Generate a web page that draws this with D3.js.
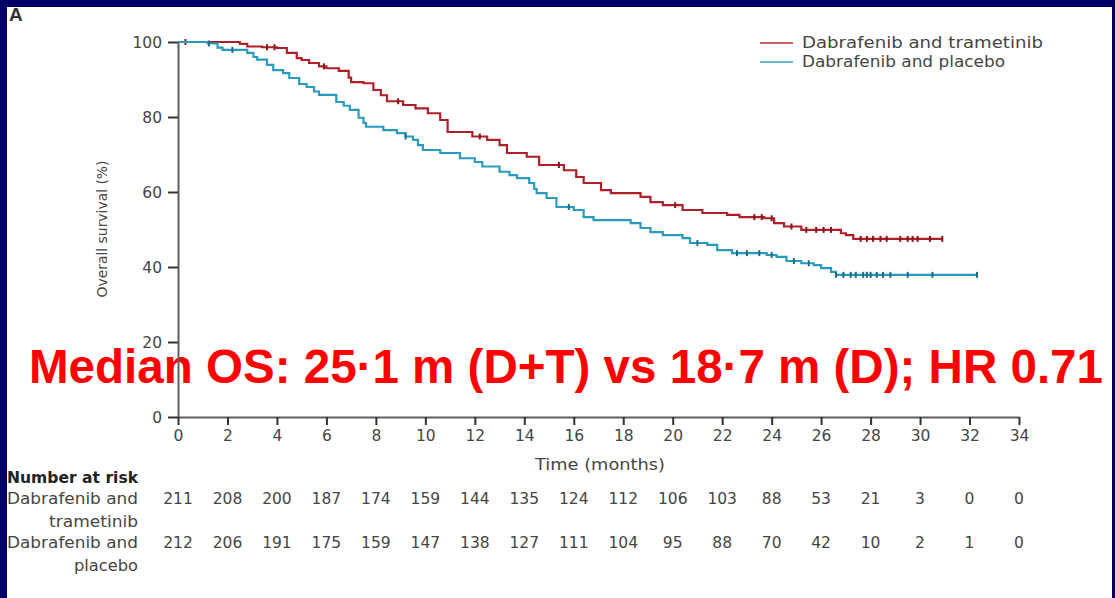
<!DOCTYPE html>
<html>
<head>
<meta charset="utf-8">
<script src="https://cdn.jsdelivr.net/npm/d3@7"></script>
<style>
  html, body { margin: 0; padding: 0; background: #ffffff; }
  svg { display: block; }
</style>
</head>
<body>
<script>
// Overall survival, dabrafenib + trametinib vs dabrafenib + placebo

const months = [0, 2, 4, 6, 8, 10, 12, 14, 16, 18, 20, 22, 24, 26, 28, 30, 32, 34];
const survivalTicks = [0, 20, 40, 60, 80, 100];

const seriesNames = ["Dabrafenib and trametinib", "Dabrafenib and placebo"];
const riskLabels = [["Dabrafenib and", "trametinib"], ["Dabrafenib and", "placebo"]];

const riskDT = [211, 208, 200, 187, 174, 159, 144, 135, 124, 112, 106, 103, 88, 53, 21, 3, 0, 0];
const riskDP = [212, 206, 191, 175, 159, 147, 138, 127, 111, 104, 95, 88, 70, 42, 10, 2, 1, 0];

// Kaplan-Meier steps: time (months) and survival (%) after each event
const dtTime = [0, 2.5, 2.8, 3.4, 4.0, 4.4, 4.8, 5.0, 5.3, 5.7, 6.0, 6.5, 6.9, 7.0, 7.5, 7.9, 8.2, 8.45, 9.1, 9.6, 10.1, 10.6, 10.9, 11.9, 12.5, 13.0, 13.3, 14.1, 14.6, 15.6, 16.1, 16.4, 17.1, 17.5, 18.7, 19.1, 19.6, 20.4, 21.2, 22.2, 22.7, 23.7, 24.1, 24.5, 25.2, 26.8, 27.0, 27.3];
const dtSurv = [100, 99.5, 98.8, 98.6, 98.4, 97.1, 95.7, 95.2, 94.4, 93.5, 93.0, 92.3, 90.5, 89.3, 89.0, 87.2, 85.8, 84.2, 83.2, 82.3, 81.0, 79.2, 76.0, 74.8, 73.9, 72.5, 70.4, 69.4, 67.2, 65.8, 64.0, 62.4, 60.5, 59.7, 58.7, 57.3, 56.5, 55.2, 54.4, 53.9, 53.3, 53.0, 51.7, 50.8, 49.9, 49.0, 48.5, 47.5];
const dtEnd = 30.9;
const dtCensor = [0.3, 3.6, 3.9, 5.9, 8.9, 12.2, 15.4, 20.1, 23.3, 23.6, 24.0, 24.8, 25.4, 25.8, 26.1, 26.4, 27.6, 27.85, 28.1, 28.4, 28.65, 29.2, 29.5, 29.7, 29.9, 30.4, 30.9];

const dpTime = [0, 1.2, 1.6, 1.8, 2.8, 3.05, 3.2, 3.6, 3.85, 4.25, 4.5, 4.9, 5.2, 5.5, 5.7, 6.4, 6.7, 6.95, 7.3, 7.5, 7.6, 8.3, 8.85, 9.2, 9.5, 9.7, 9.9, 10.6, 11.4, 12.0, 12.3, 13.0, 13.4, 13.7, 14.2, 14.4, 14.5, 14.9, 15.3, 16.0, 16.4, 16.8, 18.3, 18.7, 19.1, 19.6, 20.4, 20.7, 21.4, 21.8, 22.4, 23.8, 24.2, 24.6, 25.2, 25.7, 26.0, 26.4, 26.6];
const dpSurv = [100, 99.6, 98.5, 97.9, 97.1, 96.0, 95.3, 93.9, 92.5, 91.7, 90.4, 88.8, 88.0, 86.8, 85.9, 84.0, 83.0, 81.9, 79.8, 78.4, 77.4, 76.5, 75.7, 74.8, 73.9, 72.5, 71.2, 70.4, 69.0, 68.0, 66.8, 65.4, 64.5, 63.7, 62.4, 60.8, 59.7, 58.4, 56.0, 55.2, 53.3, 52.5, 51.7, 50.4, 49.3, 48.5, 47.7, 46.4, 45.9, 44.5, 43.7, 43.2, 42.7, 41.6, 41.0, 40.5, 39.7, 38.7, 37.9];
const dpEnd = 32.3;
const dpCensor = [1.25, 2.2, 9.2, 15.8, 21.0, 22.6, 23.0, 23.5, 24.0, 24.9, 25.5, 26.6, 26.9, 27.2, 27.4, 27.7, 27.85, 28.0, 28.25, 28.5, 28.8, 29.5, 30.5, 32.3];

const medianNote = "Median OS: 25·1 m (D+T) vs 18·7 m (D); HR 0.71";

const W = 1115, H = 598;
const textFont = "'DejaVu Sans', 'Noto Sans', sans-serif";
const textGrey = "#454545";
const axisGrey = "#5e5e5e";
const colDT = "#b01f29", colDTdark = "#8a1218";
const colDP = "#2a9bbf", colDPdark = "#1c6d8a";

const svg = d3.select("body").append("svg").attr("width", W).attr("height", H);
svg.append("rect").attr("width", W).attr("height", H).attr("fill", "#ffffff");

const x = d3.scaleLinear().domain([0, 34]).range([178, 1019]);
const y = d3.scaleLinear().domain([0, 100]).range([417, 42]);

// sized text helper: stretches a label to a given run length
function label(parent, str, px, py, size, len, anchor, weight, fill) {
  const t = parent.append("text").attr("x", px).attr("y", py)
    .attr("font-family", textFont).attr("font-size", size)
    .attr("fill", fill || textGrey).attr("text-anchor", anchor || "start")
    .text(str);
  if (weight) t.attr("font-weight", weight);
  if (len) t.attr("textLength", len).attr("lengthAdjust", "spacingAndGlyphs");
  return t;
}

// panel letter
svg.append("text").attr("x", 9).attr("y", 21)
  .attr("font-family", "'Liberation Sans', Arial, sans-serif").attr("font-weight", "bold")
  .attr("font-size", 19).attr("fill", "#333").text("A");

// headline annotation (sits under the axis lines)
svg.append("text").attr("x", 29).attr("y", 383)
  .attr("font-family", "'Liberation Sans', Arial, sans-serif").attr("font-weight", "bold")
  .attr("font-size", 48).attr("fill", "#ff0000")
  .attr("textLength", 1074).attr("lengthAdjust", "spacingAndGlyphs")
  .text(medianNote);

// step curves
function stepPoints(times, surv, end) {
  const pts = times.map((t, i) => [t, surv[i]]);
  pts.push([end, surv[surv.length - 1]]);
  return pts;
}
function survAt(times, surv, t) {
  const i = d3.bisectRight(times, t) - 1;
  return surv[Math.max(0, i)];
}
const line = d3.line().x(d => x(d[0])).y(d => y(d[1])).curve(d3.curveStepAfter);

const arms = [
  { times: dtTime, surv: dtSurv, end: dtEnd, censor: dtCensor, col: colDT, dark: colDTdark },
  { times: dpTime, surv: dpSurv, end: dpEnd, censor: dpCensor, col: colDP, dark: colDPdark }
];

arms.forEach(a => {
  svg.append("path").datum(stepPoints(a.times, a.surv, a.end))
    .attr("fill", "none").attr("stroke", a.col).attr("stroke-width", 2.2)
    .attr("d", line);
  svg.append("g").selectAll("line").data(a.censor).join("line")
    .attr("x1", t => x(t)).attr("x2", t => x(t))
    .attr("y1", t => y(survAt(a.times, a.surv, t)) - 3)
    .attr("y2", t => y(survAt(a.times, a.surv, t)) + 3)
    .attr("stroke", a.dark).attr("stroke-width", 2);
});

// axes
const yAxis = d3.axisLeft(y).tickValues(survivalTicks).tickSize(10).tickSizeOuter(0).tickPadding(6);
const gy = svg.append("g").attr("transform", `translate(${x(0)},0)`).call(yAxis);
const xAxis = d3.axisBottom(x).tickValues(months).tickSize(8).tickSizeOuter(0).tickPadding(5);
const gx = svg.append("g").attr("transform", `translate(0,${y(0)})`).call(xAxis);
[gx, gy].forEach(g => {
  g.select(".domain").attr("stroke", axisGrey).attr("stroke-width", 2);
  g.selectAll(".tick line").attr("stroke", "#333").attr("stroke-width", 2);
  g.selectAll(".tick text").attr("fill", textGrey).attr("font-family", textFont).attr("font-size", 15.5);
});
gy.selectAll(".tick text").attr("dy", "0.34em");

label(svg, "Time (months)", 600, 470, 15, 130, "middle");

svg.append("text").attr("transform", "translate(107,229) rotate(-90)")
  .attr("text-anchor", "middle").attr("font-family", textFont).attr("font-size", 14)
  .attr("fill", textGrey).attr("textLength", 137).attr("lengthAdjust", "spacingAndGlyphs")
  .text("Overall survival (%)");

// legend
const legend = svg.append("g");
const legendRows = [[colDT, 43, 241], [colDP, 62, 203]];
legendRows.forEach((d, i) => {
  legend.append("line").attr("x1", 760).attr("x2", 793).attr("y1", d[1]).attr("y2", d[1])
    .attr("stroke", d[0]).attr("stroke-width", 2).attr("opacity", 0.7);
  label(legend, seriesNames[i], 802, d[1] + 5, 15, d[2]);
});

// number at risk table
label(svg, "Number at risk", 7, 483, 15.5, 131, "start", "bold", "#222");

const rows = [
  { counts: riskDT, labels: riskLabels[0], y: 504, len2: 89 },
  { counts: riskDP, labels: riskLabels[1], y: 548, len2: 64 }
];
rows.forEach(r => {
  label(svg, r.labels[0], 138, r.y, 15.5, 131, "end");
  label(svg, r.labels[1], 138, r.y + 23, 15.5, r.len2, "end");
  svg.append("g").selectAll("text").data(r.counts).join("text")
    .attr("x", (d, i) => x(months[i])).attr("y", r.y).attr("text-anchor", "middle")
    .attr("font-family", textFont).attr("font-size", 15.5).attr("fill", textGrey)
    .text(d => d);
});

// slide frame
svg.append("rect").attr("x", 0).attr("y", 0).attr("width", W).attr("height", 7).attr("fill", "#000066");
svg.append("rect").attr("x", 0).attr("y", 0).attr("width", 7).attr("height", H).attr("fill", "#000066");
svg.append("rect").attr("x", 1112).attr("y", 0).attr("width", 3).attr("height", H).attr("fill", "#000066");
</script>
</body>
</html>
